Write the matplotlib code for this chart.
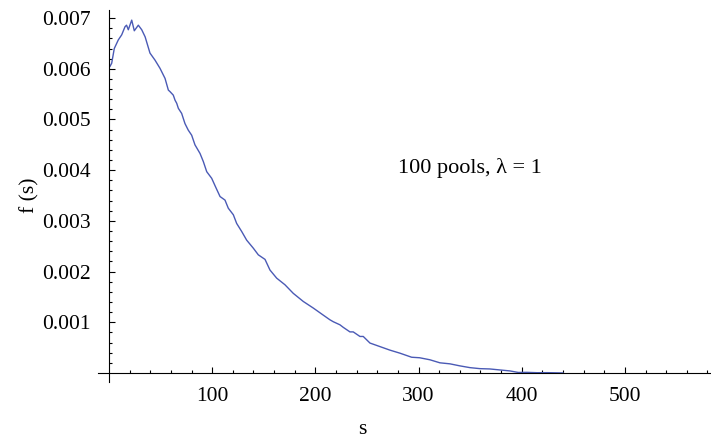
import matplotlib
matplotlib.use('Agg')
import matplotlib.pyplot as plt
import numpy as np

# values (f in units of 1e-3)
s = [1, 2.6, 5.1, 9, 12.3, 15.5, 17, 18.7, 22, 24.5, 28.4, 31.7, 35, 39.7, 44.6,
     49.4, 54.3, 57.5, 59.1, 62.3, 64, 65.6, 67.2, 70.4, 73.6, 76.8, 80.1, 83.3,
     88.2, 91.4, 94.7, 99.5, 103.5, 107.6, 112.4, 115.6, 120.5, 123.7, 128.6,
     133.4, 139.9, 144.7, 151.2, 156, 162.5, 170.5, 178.6, 188.3, 198, 207.7,
     214, 217.4, 223.8, 227, 233.5, 236.7, 243.2, 246.4, 252.9, 262.6, 272.3,
     282, 293.3, 301, 311, 320.7, 330.4, 340, 349.8, 359.5, 369, 379, 388.6,
     396.6, 405, 415, 425, 435, 440]
f = [6.05, 6.11, 6.40, 6.57, 6.67, 6.83, 6.86, 6.77, 6.96, 6.75, 6.86, 6.77, 6.63,
     6.31, 6.17, 6.01, 5.81, 5.58, 5.55, 5.48, 5.38, 5.32, 5.22, 5.12, 4.92, 4.79,
     4.69, 4.50, 4.33, 4.17, 3.97, 3.84, 3.66, 3.48, 3.41, 3.25, 3.12, 2.95, 2.79,
     2.62, 2.46, 2.33, 2.24, 2.03, 1.87, 1.74, 1.57, 1.41, 1.28, 1.14, 1.05, 1.01,
     0.95, 0.90, 0.81, 0.81, 0.72, 0.72, 0.59, 0.52, 0.45, 0.39, 0.31, 0.30, 0.26,
     0.20, 0.18, 0.14, 0.105, 0.085, 0.079, 0.059, 0.04, 0.01, 0.012, 0.005,
     0.006, 0.002, 0.0]
f = np.array(f) * 1e-3

xticks = [100, 200, 300, 400, 500]
yticks = [0.001, 0.002, 0.003, 0.004, 0.005, 0.006, 0.007]
yticklabels = ['0.001', '0.002', '0.003', '0.004', '0.005', '0.006', '0.007']

plt.rcParams['font.family'] = ['Liberation Serif', 'DejaVu Serif']

fig = plt.figure(figsize=(7.11, 4.38), dpi=100)
ax = fig.add_axes([0.1378, 0.1279, 0.862, 0.8493])

ax.plot(s, f, color='#4a5ab5', lw=1.0)

ax.set_xlim(-10.7, 583.3)
ax.set_ylim(-0.000178, 0.00716)

for side in ['top', 'right']:
    ax.spines[side].set_visible(False)
ax.spines['left'].set_position(('data', 0))
ax.spines['bottom'].set_position(('data', 0))
ax.spines['left'].set_linewidth(0.8)
ax.spines['bottom'].set_linewidth(0.8)

ax.set_xticks(xticks)
ax.set_xticks(np.arange(20, 581, 20), minor=True)
ax.set_yticks(yticks)
ax.set_yticklabels(yticklabels)
ax.set_yticks(np.arange(0.0002, 0.00701, 0.0002), minor=True)
ax.tick_params(which='both', direction='in', width=0.8, labelsize=15.5)
ax.tick_params(which='major', length=4.5)
ax.tick_params(which='minor', length=2.5)
ax.tick_params(axis='y', pad=13)
ax.tick_params(axis='x', pad=10)

fig.text(30 / 711, 1 - 195 / 438, 'f (s)', rotation=90, ha='center', va='center', fontsize=15.5)
fig.text(362 / 711, 1 - 430 / 438, 's', ha='center', va='center', fontsize=15.5)
ax.text(350, 0.00404, '100 pools, λ = 1', ha='center', va='center', fontsize=16)

fig.savefig('out.png', dpi=100)
